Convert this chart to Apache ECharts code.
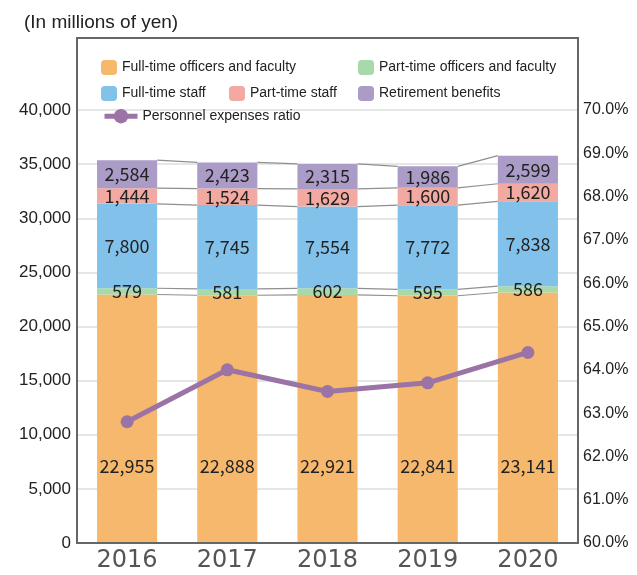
<!DOCTYPE html>
<html><head><meta charset="utf-8">
<script src="https://cdn.jsdelivr.net/npm/echarts@6/dist/echarts.min.js"></script>
<style>html,body{margin:0;padding:0;background:#fff}#chart{width:637px;height:575px}</style>
</head><body><div id="chart"></div>
<script>
// Personnel expenses by category (millions of yen) and ratio (%)
const years = ['2016', '2017', '2018', '2019', '2020'];
const fullTimeFaculty = [22955, 22888, 22921, 22841, 23141];
const partTimeFaculty = [579, 581, 602, 595, 586];
const fullTimeStaff = [7800, 7745, 7554, 7772, 7838];
const partTimeStaff = [1444, 1524, 1629, 1600, 1620];
const retirement = [2584, 2423, 2315, 1986, 2599];
const expenseRatio = [62.8, 64.0, 63.5, 63.7, 64.4];
const amountTicks = { min: 0, max: 40000, interval: 5000 };
const ratioTicks = { min: 60, max: 70, interval: 1 };

const names = ['Full-time officers and faculty', 'Part-time officers and faculty',
  'Full-time staff', 'Part-time staff', 'Retirement benefits'];
const colors = ['#F6B86C', '#A8D9AA', '#82C1EA', '#F2A9A1', '#AA9BC7'];
const lineColor = '#9B74A5';
const layers = [fullTimeFaculty, partTimeFaculty, fullTimeStaff, partTimeStaff, retirement];

// cumulative segment tops per year, used by the series connector lines
const tops = years.map((_, i) => { let s = 0; return layers.map(l => (s += l[i])); });
const connectorData = years.slice(0, -1).map((_, i) => [i, ...tops[i], ...tops[i + 1]]);

const plainFont = '"Liberation Sans", Arial, sans-serif';
const numFont = '"Noto Sans CJK JP", "Noto Sans", sans-serif';
const fmt = v => v.toLocaleString('en-US');

const barSeries = layers.map((vals, k) => ({
  name: names[k],
  type: 'bar',
  stack: 'total',
  barWidth: '60%',
  data: vals,
  itemStyle: { color: colors[k] },
  label: {
    show: true,
    position: k === 0 ? 'insideBottom' : 'inside',
    distance: k === 0 ? 68 : 5,
    color: '#222',
    fontSize: 18,
    fontFamily: numFont,
    formatter: p => fmt(p.value)
  },
  labelLayout: { hideOverlap: false },
  z: 2
}));

function legendItem(name, left, top, extra) {
  return Object.assign({
    data: [name], left: left, top: top,
    itemWidth: 16, itemHeight: 15, itemGap: 0,
    selectedMode: false,
    textStyle: { fontSize: 14, fontFamily: plainFont, color: '#222' }
  }, extra || {});
}

const option = {
  animation: false,
  backgroundColor: '#fff',
  title: {
    text: '(In millions of yen)', left: 19, top: 8,
    textStyle: { fontSize: 19, fontWeight: 'normal', fontFamily: plainFont, color: '#222' }
  },
  legend: [
    legendItem(names[0], 96, 55),
    legendItem(names[1], 353, 55),
    legendItem(names[2], 96, 81),
    legendItem(names[3], 224, 81),
    legendItem(names[4], 353, 81),
    legendItem('Personnel expenses ratio', 97, 104, {
      itemWidth: 33, itemHeight: 18,
      lineStyle: { width: 5 }
    })
  ],
  graphic: [{
    type: 'rect', z: 100, silent: true,
    shape: { x: 77, y: 38, width: 501, height: 505 },
    style: { fill: 'none', stroke: '#666', lineWidth: 2 }
  }],
  grid: { left: 77, right: 59, top: 110, bottom: 32, containLabel: false },
  xAxis: {
    type: 'category', data: years,
    axisLine: { lineStyle: { color: '#666', width: 2 } },
    axisTick: { show: false },
    axisLabel: { fontSize: 24, fontFamily: '"DejaVu Sans", sans-serif', color: '#555', margin: 6 }
  },
  yAxis: [{
    type: 'value', min: amountTicks.min, max: amountTicks.max, interval: amountTicks.interval,
    axisLine: { show: true, lineStyle: { color: '#666', width: 2 } },
    axisTick: { show: false },
    splitLine: { lineStyle: { color: '#e6e6e6', width: 2 } },
    axisLabel: { fontSize: 17, fontFamily: plainFont, color: '#222', margin: 6, formatter: v => fmt(v) }
  }, {
    type: 'value', min: ratioTicks.min, max: ratioTicks.max, interval: ratioTicks.interval,
    axisLine: { show: true, lineStyle: { color: '#666', width: 2 } },
    axisTick: { show: false },
    splitLine: { show: false },
    axisLabel: { fontSize: 16, fontFamily: plainFont, color: '#222', margin: 5, formatter: v => v.toFixed(1) + '%' }
  }],
  series: [
    ...barSeries,
    {
      type: 'custom',
      silent: true,
      data: connectorData,
      encode: { x: 0, y: [1, 2, 3, 4, 5, 6, 7, 8, 9, 10] },
      renderItem: function (params, api) {
        const i = api.value(0);
        const half = api.size([1, 0])[0] * 0.3;
        const children = [];
        for (let k = 0; k < 5; k++) {
          const a = api.coord([i, api.value(1 + k)]);
          const b = api.coord([i + 1, api.value(6 + k)]);
          children.push({
            type: 'line',
            shape: { x1: a[0] + half, y1: a[1], x2: b[0] - half, y2: b[1] },
            style: { stroke: '#8f8f8f', lineWidth: 1.2 }
          });
        }
        return { type: 'group', children: children };
      },
      z: 1
    },
    {
      name: 'Personnel expenses ratio',
      type: 'line',
      yAxisIndex: 1,
      data: expenseRatio,
      symbol: 'circle',
      symbolSize: 13,
      lineStyle: { color: lineColor, width: 5 },
      itemStyle: { color: lineColor },
      z: 5
    }
  ]
};

const chart = echarts.init(document.getElementById('chart'), null, { renderer: 'canvas' });
chart.setOption(option);
</script>
</body></html>
